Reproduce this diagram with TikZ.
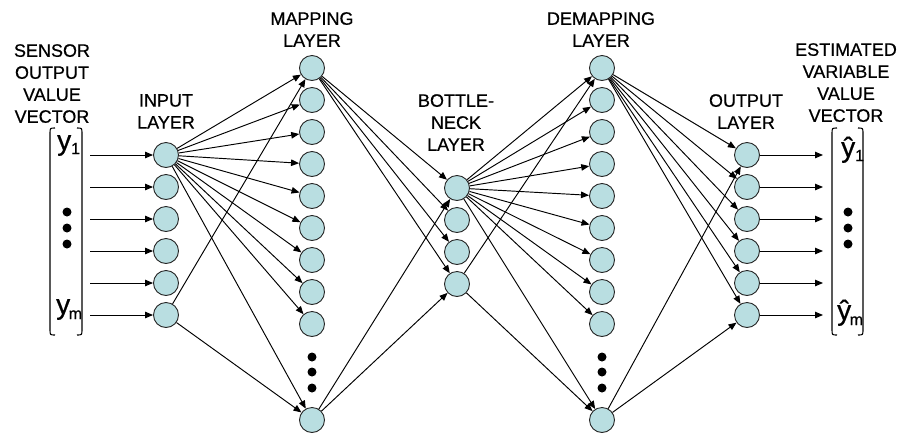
\documentclass[tikz,border=0pt]{standalone}
\usepackage{fontspec}
\setmainfont{Liberation Sans}[FakeBold=0.6]
\usetikzlibrary{arrows.meta}
\definecolor{nodefill}{RGB}{185,222,225}
\begin{document}
\begin{tikzpicture}[x=1pt,y=-1pt,
  neuron/.style={circle,draw=black!85,fill=nodefill,line width=0.9pt,minimum size=25pt,inner sep=0pt},
  conn/.style={-{Triangle[length=8pt,width=6.5pt]},line width=0.95pt,black},
  lbl/.style={align=center,font=\fontsize{18}{22}\selectfont,inner sep=0pt,anchor=north},
  vdot/.style={circle,fill=black,minimum size=9pt,inner sep=0pt},
  brk/.style={line width=1.1pt},
  vecsym/.style={anchor=base west,inner sep=0pt,font=\fontsize{28}{28}\selectfont}]
\useasboundingbox (0,0) rectangle (903,432);

% neurons
\foreach \i/\y in {1/155,2/187,3/219,4/251,5/283,6/315} {
  \node[neuron] (in\i) at (166,\y) {};
  \node[neuron] (out\i) at (747,\y) {};
  \coordinate (a\i) at (90,\y);
  \coordinate (b\i) at (823,\y);
}
\foreach \i/\y in {1/68,2/100,3/132,4/164,5/196,6/228,7/260,8/292,9/324,10/420} {
  \node[neuron] (map\i) at (312,\y) {};
  \node[neuron] (dm\i) at (602,\y) {};
}
\foreach \i/\y in {1/188,2/220,3/252,4/284} {
  \node[neuron] (bn\i) at (457,\y) {};
}

% dots
\foreach \y [count=\k] in {357,372,388} {
  \node[vdot] (md\k) at (312,\y) {};
  \node[vdot] (dd\k) at (602,\y) {};
}
\foreach \y [count=\k] in {212,228,244} {
  \node[vdot] (ld\k) at (67,\y) {};
  \node[vdot] (rd\k) at (848,\y) {};
}

% connectors
\foreach \i in {1,...,6} {
  \draw[conn] (a\i) -- (in\i);
  \draw[conn] (out\i) -- (b\i);
}
\foreach \j in {1,...,10} \draw[conn] (in1) -- (map\j);
\draw[conn] (in6) -- (map1);
\draw[conn] (in6) -- (map10);
\foreach \j in {1,...,4} \draw[conn] (map1) -- (bn\j);
\draw[conn] (map10) -- (bn1);
\draw[conn] (map10) -- (bn4);
\foreach \j in {1,...,10} \draw[conn] (bn1) -- (dm\j);
\draw[conn] (bn4) -- (dm1);
\draw[conn] (bn4) -- (dm10);
\foreach \j in {1,...,6} \draw[conn] (dm1) -- (out\j);
\draw[conn] (dm10) -- (out1);
\draw[conn] (dm10) -- (out6);

% brackets
\draw[brk] (55,128) .. controls (50,128) .. (50,134) -- (50,329) .. controls (50,335) .. (55,335);
\draw[brk] (77,128) .. controls (82,128) .. (82,134) -- (82,329) .. controls (82,335) .. (77,335);
\draw[brk] (837,128) .. controls (832,128) .. (832,134) -- (832,329) .. controls (832,335) .. (837,335);
\draw[brk] (858,128) .. controls (863,128) .. (863,134) -- (863,329) .. controls (863,335) .. (858,335);

% vector entries
\node[vecsym] (y1) at (57,150) {y\raisebox{-4pt}{\fontsize{16}{16}\selectfont 1}};
\node[vecsym] (ym) at (56,314) {y\kern-1.5pt\raisebox{-5pt}{\fontsize{16}{16}\selectfont m}};
\node[vecsym] (yh1) at (841,157) {ŷ\raisebox{-4pt}{\fontsize{16}{16}\selectfont 1}};
\node[vecsym] (yhm) at (837,320) {ŷ\kern-1.5pt\raisebox{-5pt}{\fontsize{16}{16}\selectfont m}};

% labels
\node[lbl] (lsens) at (52,44) {SENSOR\\OUTPUT\\VALUE\\VECTOR};
\node[lbl] (linp) at (166,94) {INPUT\\LAYER};
\node[lbl] (lmap) at (312,12) {MAPPING\\LAYER};
\node[lbl] (lbn) at (456,94) {BOTTLE-\\NECK\\LAYER};
\node[lbl] (ldm) at (601,12) {DEMAPPING\\LAYER};
\node[lbl] (lout) at (746,94) {OUTPUT\\LAYER};
\node[lbl] (lest) at (846,43) {ESTIMATED\\VARIABLE\\VALUE\\VECTOR};
\end{tikzpicture}
\end{document}
